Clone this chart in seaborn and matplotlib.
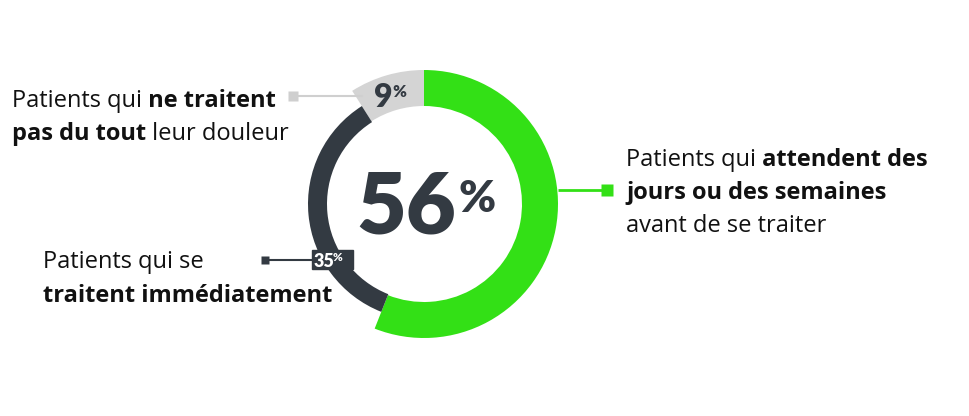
import matplotlib
matplotlib.use("Agg")
import matplotlib.pyplot as plt
import seaborn as sns

# ---- data ----
categories = ["attendent", "immédiatement", "pas du tout"]
shares = [56, 35, 9]
center_label = "56"
seg_labels = ["9", "35"]

GREEN = "#33e016"
DARK = "#333a42"
GRAY = "#d4d4d4"
TXT = "#111111"

sns.set_theme(style="white")
plt.rcParams["font.family"] = ["Open Sans", "DejaVu Sans"]

W, H = 970, 416
fig = plt.figure(figsize=(W / 100, H / 100), dpi=100)
ax = fig.add_axes([0, 0, 1, 1])

cx, cy = 424, 204
R_out, R_in = 134, 98
R_dark = 116

ax.pie(shares, colors=[GREEN, (0, 0, 0, 0), GRAY], radius=R_out, center=(cx, cy),
       startangle=-90, counterclock=True,
       wedgeprops=dict(width=R_out - R_in, edgecolor="none", linewidth=0))
ax.pie(shares, colors=[(0, 0, 0, 0), DARK, (0, 0, 0, 0)], radius=R_dark, center=(cx, cy),
       startangle=-90, counterclock=True,
       wedgeprops=dict(width=R_dark - R_in + 1, edgecolor="none", linewidth=0))

ax.set_xlim(0, W)
ax.set_ylim(H, 0)
ax.set_aspect("equal")
ax.axis("off")

FS = 17


def rich_line(x, y, parts, size=FS):
    t = ax.text(x, y, parts[0][0], fontsize=size, fontweight=parts[0][1],
                color=TXT, ha="left", va="baseline")
    for s, w in parts[1:]:
        t = ax.annotate(s, xy=(1, 0), xycoords=t, xytext=(0, 0),
                        textcoords="offset points", fontsize=size,
                        fontweight=w, color=TXT, ha="left", va="bottom")
    return t


rich_line(12, 107, [("Patients qui", "normal"), (" ne traitent", "bold")])
rich_line(12, 140, [("pas du tout", "bold"), (" leur douleur", "normal")])
rich_line(43, 268, [("Patients qui se", "normal")])
rich_line(43, 302, [("traitent immédiatement", "bold")])
rich_line(626, 166, [("Patients qui", "normal"), (" attendent des", "bold")])
rich_line(626, 199, [("jours ou des semaines", "bold")])
rich_line(626, 232, [("avant de se traiter", "normal")])

ax.plot([558, 607], [190, 190], color=GREEN, lw=2, solid_capstyle="butt", zorder=1)
ax.plot([607], [190], marker="s", ms=8, color=GREEN, mec="none")
ax.plot([293, 362], [96, 96], color="#cfcfcf", lw=1.5, zorder=1)
ax.plot([293], [96], marker="s", ms=6.5, color="#cfcfcf", mec="none")
ax.plot([265, 314], [260, 260], color=DARK, lw=1.5, zorder=1)
ax.plot([265], [260], marker="s", ms=6, color=DARK, mec="none")

NUMF = ["Lato", "DejaVu Sans"]
ax.add_patch(plt.Rectangle((312, 250), 41, 19, color=DARK, zorder=3))
ax.text(314, 267, seg_labels[1], fontsize=13, fontweight="heavy", color="white",
        ha="left", va="baseline", zorder=4, family=NUMF)
ax.text(333, 261, "%", fontsize=8.5, fontweight="heavy", color="white",
        ha="left", va="baseline", zorder=4, family=NUMF)

ax.text(374, 107, seg_labels[0], fontsize=23, fontweight="heavy", color=DARK,
        ha="left", va="baseline", family=NUMF)
ax.text(392, 97, "%", fontsize=12, fontweight="heavy", color=DARK,
        ha="left", va="baseline", family=NUMF)

ax.text(456, 233, center_label, fontsize=62, fontweight="heavy", color=DARK,
        ha="right", va="baseline", family=NUMF)
ax.text(459, 212, "%", fontsize=32, fontweight="heavy", color=DARK,
        ha="left", va="baseline", family=NUMF)

fig.savefig("out.png", dpi=100, facecolor="white")
